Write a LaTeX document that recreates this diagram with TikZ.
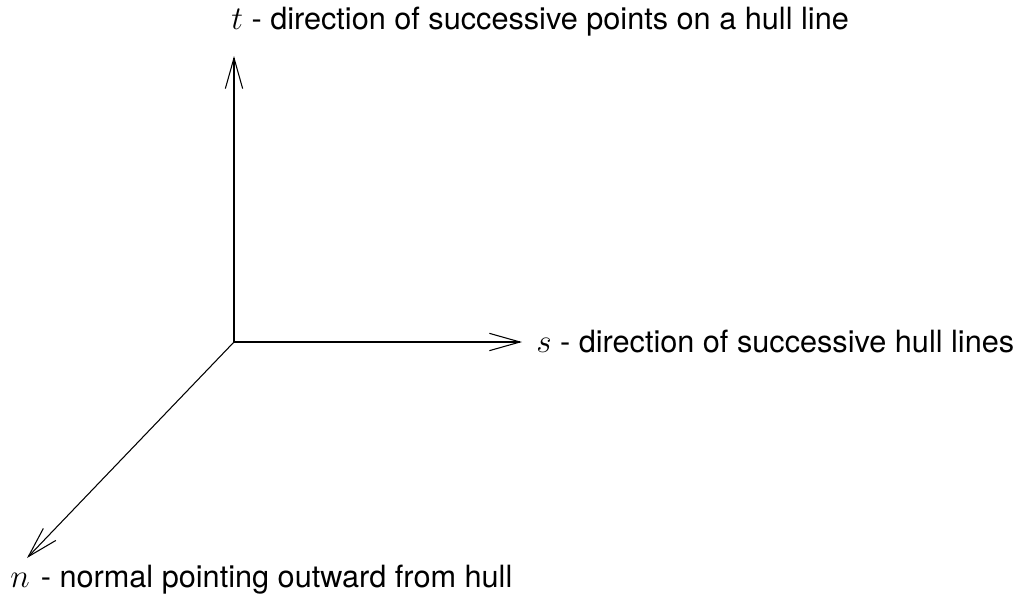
\documentclass[tikz,border=0pt]{standalone}
\usepackage{fontspec}
\setmainfont{TeX Gyre Heros}
\usetikzlibrary{arrows.meta}

\tikzset{
  axis/.style={line width=0.8pt, -{Straight Barb[length=23pt, width=13pt, line width=0.8pt]}},
  axislabel/.style={anchor=west, inner sep=0pt, font=\fontsize{23}{27}\selectfont}
}

\begin{document}
\begin{tikzpicture}[x=0.75pt,y=0.75pt,yscale=-1,xscale=1]
\useasboundingbox (0,0) rectangle (1016,596);

% Origin and arrow tips
\coordinate (o) at (234,342);
\coordinate (ttip) at (234,56);
\coordinate (stip) at (522,342);
\coordinate (ntip) at (27,558);

% Axes
\draw [axis] (o) -- (ttip);
\draw [axis] (o) -- (stip);
\draw [axis] (o) -- (ntip);

% Text Node
\node (tlabel) [axislabel] at (231,22) {$t$ - direction of successive points on a hull line};
% Text Node
\node (slabel) [axislabel] at (536,341) {$s$ - direction of successive hull lines};
% Text Node
\node (nlabel) [axislabel] at (10,580) {$n$\hspace{2pt} - normal pointing outward from hull};

\end{tikzpicture}
\end{document}
